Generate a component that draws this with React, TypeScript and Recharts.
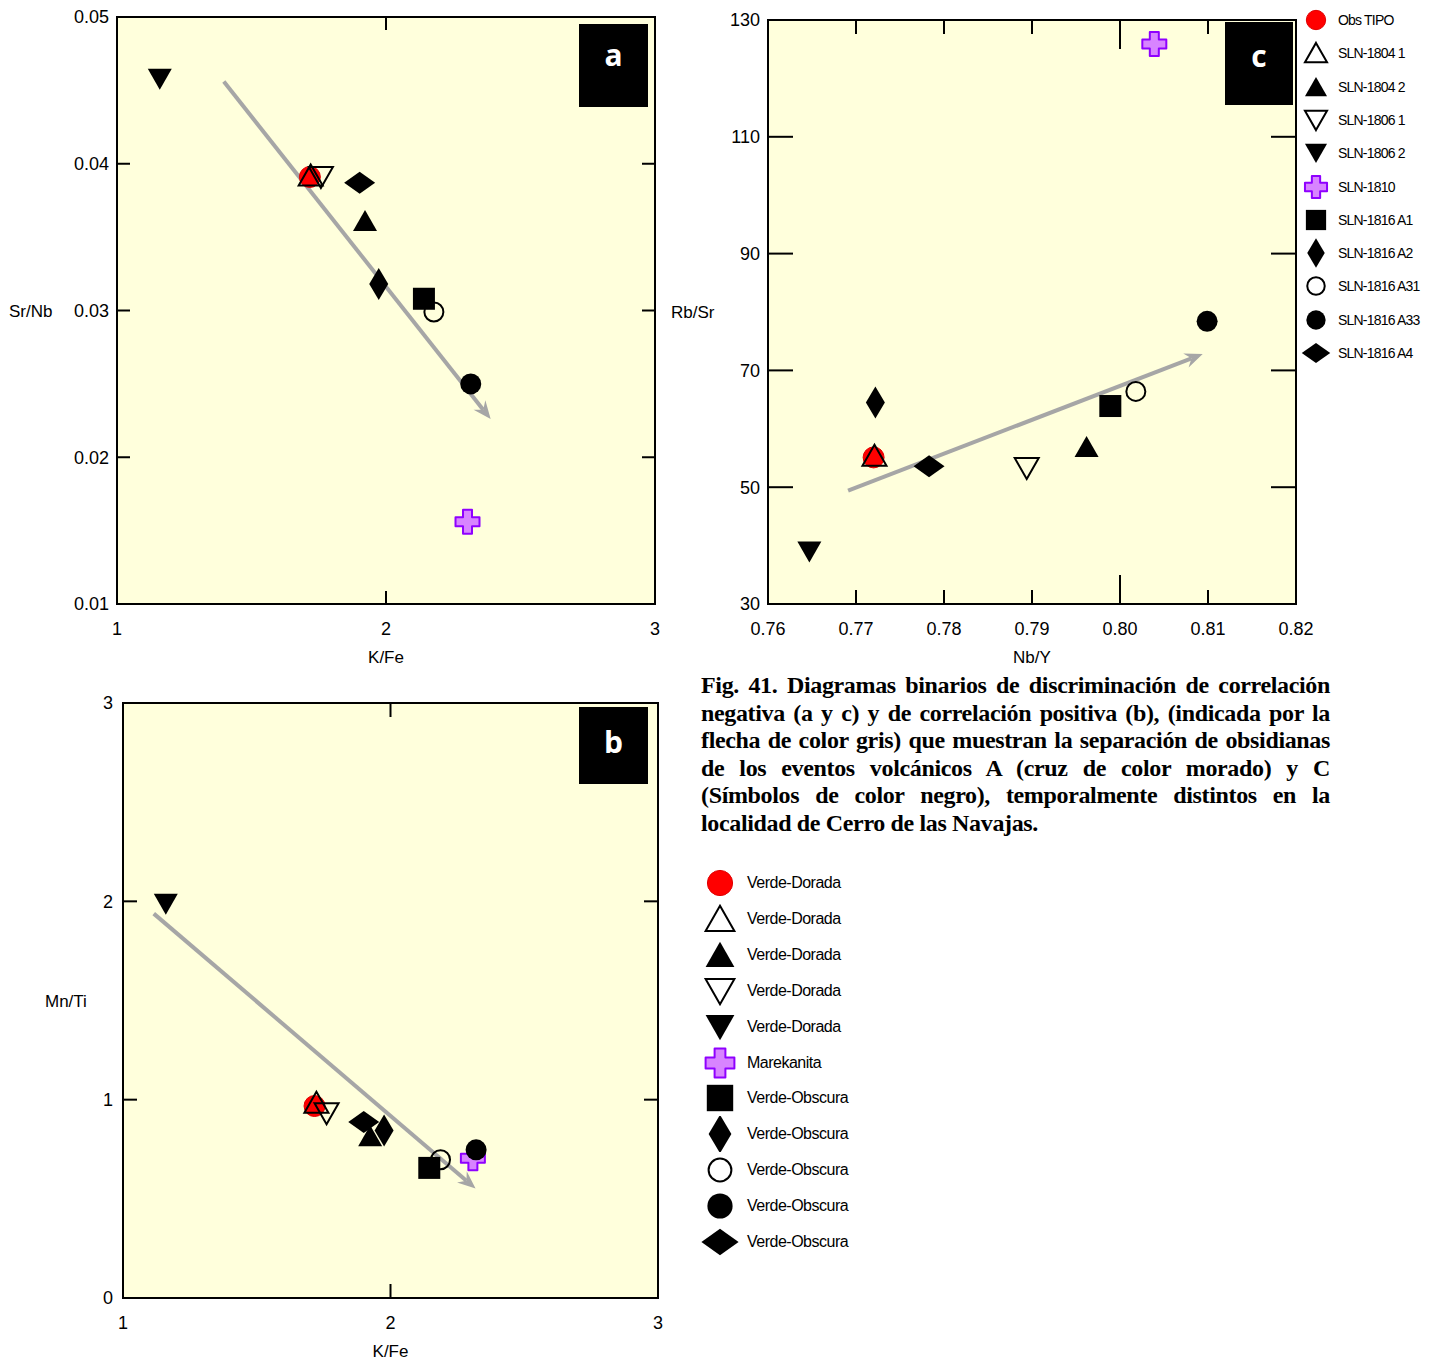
import React from 'react';
import { ScatterChart, Scatter, XAxis, YAxis, CartesianGrid, ReferenceArea, ReferenceLine } from 'recharts';

// samples in legend order, with their rock group and marker
const samples = ['Obs TIPO', 'SLN-1804 1', 'SLN-1804 2', 'SLN-1806 1', 'SLN-1806 2', 'SLN-1810', 'SLN-1816 A1', 'SLN-1816 A2', 'SLN-1816 A31', 'SLN-1816 A33', 'SLN-1816 A4'];
const groups = ['Verde-Dorada', 'Verde-Dorada', 'Verde-Dorada', 'Verde-Dorada', 'Verde-Dorada', 'Marekanita', 'Verde-Obscura', 'Verde-Obscura', 'Verde-Obscura', 'Verde-Obscura', 'Verde-Obscura'];
const kinds = ['red', 'upOpen', 'up', 'downOpen', 'down', 'cross', 'square', 'tall', 'ring', 'dot', 'wide'];

// panel a: K/Fe vs Sr/Nb
const kFeA = [1.717, 1.72, 1.922, 1.758, 1.159, 2.303, 2.141, 1.973, 2.178, 2.315, 1.902];
const srNbA = [0.0391, 0.0392, 0.0361, 0.0391, 0.0458, 0.0156, 0.0308, 0.0318, 0.0299, 0.025, 0.0387];
const arrowA = [[1.397, 0.0456], [2.389, 0.0226]];

// panel b: K/Fe vs Mn/Ti
const kFeB = [1.716, 1.723, 1.924, 1.761, 1.16, 2.308, 2.145, 1.976, 2.187, 2.32, 1.9];
const mnTiB = [0.968, 0.985, 0.815, 0.931, 1.988, 0.704, 0.656, 0.845, 0.697, 0.747, 0.888];
const arrowB = [[1.115, 1.938], [2.318, 0.552]];

// panel c: Nb/Y vs Rb/Sr
const nbYC = [0.772, 0.7721, 0.7962, 0.7894, 0.7647, 0.8039, 0.7989, 0.7722, 0.8018, 0.8099, 0.7783];
const rbSrC = [55.1, 55.4, 56.9, 53.3, 39.0, 125.9, 63.9, 64.5, 66.4, 78.4, 53.6];
const arrowC = [[0.7691, 49.4], [0.8094, 72.8]];

const ticksKFe = [1, 2, 3];
const ticksSrNb = [0.01, 0.02, 0.03, 0.04, 0.05];
const ticksMnTi = [0, 1, 2, 3];
const ticksNbY = [0.76, 0.77, 0.78, 0.79, 0.8, 0.81, 0.82];
const ticksRbSr = [30, 50, 70, 90, 110, 130];

const caption = [
  'Fig. 41. Diagramas binarios de discriminación de correlación',
  'negativa (a y c) y de correlación positiva (b), (indicada por la',
  'flecha de color gris) que muestran la separación de obsidianas',
  'de los eventos volcánicos A (cruz de color morado) y C',
  '(Símbolos de color negro), temporalmente distintos en la',
  'localidad de Cerro de las Navajas.',
];

const GREY = '#a6a6a6';
const PANEL_BG = '#ffffdc';
const SANS = '"Liberation Sans", Arial, sans-serif';

function Marker({ kind, cx, cy, s = 1 }: { kind: string; cx: number; cy: number; s?: number }) {
  const pts = (arr: number[][]) => arr.map(([x, y]) => `${cx + x * s},${cy + y * s}`).join(' ');
  switch (kind) {
    case 'red':
      return <circle cx={cx} cy={cy} r={10.5 * s} fill="#ff0000" stroke="#e00000" strokeWidth={1} />;
    case 'ring':
      return <circle cx={cx} cy={cy} r={9.5 * s} fill="none" stroke="#000" strokeWidth={2} />;
    case 'dot':
      return <circle cx={cx} cy={cy} r={10.5 * s} fill="#000" />;
    case 'up':
    case 'upOpen':
      return (
        <polygon
          points={pts([[0, -11], [12, 10], [-12, 10]])}
          fill={kind === 'up' ? '#000' : 'none'}
          stroke="#000"
          strokeWidth={kind === 'up' ? 0 : 2}
        />
      );
    case 'down':
    case 'downOpen':
      return (
        <polygon
          points={pts([[0, 11], [12, -10], [-12, -10]])}
          fill={kind === 'down' ? '#000' : 'none'}
          stroke="#000"
          strokeWidth={kind === 'down' ? 0 : 2}
        />
      );
    case 'square':
      return <rect x={cx - 11 * s} y={cy - 11 * s} width={22 * s} height={22 * s} fill="#000" />;
    case 'tall':
      return <polygon points={pts([[0, -16], [9.5, 0], [0, 16], [-9.5, 0]])} fill="#000" />;
    case 'wide':
      return <polygon points={pts([[-15.5, 0], [0, -11], [15.5, 0], [0, 11]])} fill="#000" />;
    case 'cross': {
      const a = 4.5;
      const l = 12;
      return (
        <polygon
          points={pts([[-a, -l], [a, -l], [a, -a], [l, -a], [l, a], [a, a], [a, l], [-a, l], [-a, a], [-l, a], [-l, -a], [-a, -a]])}
          fill="#d884ff"
          stroke="#8f00ff"
          strokeWidth={2}
          strokeLinejoin="round"
        />
      );
    }
    default:
      return null;
  }
}

function Arrow(props: any) {
  const { x1, y1, x2, y2 } = props;
  const dx = x2 - x1;
  const dy = y2 - y1;
  const len = Math.hypot(dx, dy) || 1;
  const ux = dx / len;
  const uy = dy / len;
  const px = -uy;
  const py = ux;
  const L = 18;
  const W = 7.5;
  const N = 12;
  const bx = x2 - ux * L;
  const by = y2 - uy * L;
  const nx = x2 - ux * N;
  const ny = y2 - uy * N;
  return (
    <g>
      <line x1={x1} y1={y1} x2={nx} y2={ny} stroke={GREY} strokeWidth={4} />
      <polygon points={`${x2},${y2} ${bx + px * W},${by + py * W} ${nx},${ny} ${bx - px * W},${by - py * W}`} fill={GREY} />
    </g>
  );
}

// draws only the two inward tick stubs at both ends of a reference line
const stubs = (len: number) => (props: any) => {
  const { x1, y1, x2, y2 } = props;
  const st = { stroke: '#000', strokeWidth: 2 };
  if (Math.abs(x1 - x2) < 0.5) {
    const t = Math.min(y1, y2);
    const b = Math.max(y1, y2);
    return (
      <g>
        <line x1={x1} x2={x1} y1={t} y2={t + len} {...st} />
        <line x1={x1} x2={x1} y1={b} y2={b - len} {...st} />
      </g>
    );
  }
  const l = Math.min(x1, x2);
  const r = Math.max(x1, x2);
  return (
    <g>
      <line x1={l} x2={l + len} y1={y1} y2={y1} {...st} />
      <line x1={r} x2={r - len} y1={y1} y2={y1} {...st} />
    </g>
  );
};

type InTicks = { axis: 'x' | 'y'; ticks: number[]; len: number };

type PanelProps = {
  left: number;
  top: number;
  width: number;
  height: number;
  margin: { top: number; right: number; left: number; bottom: number };
  yWidth: number;
  xHeight: number;
  xs: number[];
  ys: number[];
  xDomain: [number, number];
  yDomain: [number, number];
  xTicks: number[];
  yTicks: number[];
  xFmt: (v: number) => string;
  yFmt: (v: number) => string;
  inTicks: InTicks[];
  xLabel: string;
  yLabel: string;
  xLabelOffset: number;
  yLabelOffset: number;
  yTickMargin: number;
  arrow: number[][];
};

const tickStyle = { fill: '#000', fontSize: 18, fontFamily: SANS };
const labelStyle = { fill: '#000', fontSize: 17, fontFamily: SANS };

function Panel(p: PanelProps) {
  const rows = p.xs.map((x, i) => ({ x, y: p.ys[i], kind: kinds[i], name: samples[i] }));
  const [a0, a1] = p.arrow;
  return (
    <div style={{ position: 'absolute', left: p.left, top: p.top }}>
      <ScatterChart width={p.width} height={p.height} margin={p.margin}>
        <CartesianGrid xAxisId="m" yAxisId="m" horizontal={false} vertical={false} fill={PANEL_BG} fillOpacity={1} />
        <XAxis
          xAxisId="m"
          type="number"
          dataKey="x"
          domain={p.xDomain}
          ticks={p.xTicks}
          interval={0}
          allowDataOverflow
          height={p.xHeight}
          axisLine={false}
          tickLine={false}
          tickSize={0}
          tickMargin={18}
          tick={tickStyle}
          tickFormatter={p.xFmt}
          label={{ value: p.xLabel, position: 'insideBottom', offset: p.xLabelOffset, ...labelStyle }}
        />
        <YAxis
          yAxisId="m"
          type="number"
          dataKey="y"
          domain={p.yDomain}
          ticks={p.yTicks}
          interval={0}
          allowDataOverflow
          width={p.yWidth}
          axisLine={false}
          tickLine={false}
          tickSize={0}
          tickMargin={p.yTickMargin}
          tick={tickStyle}
          tickFormatter={p.yFmt}
          label={{ value: p.yLabel, position: 'insideLeft', offset: p.yLabelOffset, ...labelStyle }}
        />
        {p.inTicks.flatMap((t, i) =>
          t.ticks.map((v) =>
            t.axis === 'x' ? (
              <ReferenceLine key={`${i}-${v}`} xAxisId="m" yAxisId="m" x={v} shape={stubs(t.len)} />
            ) : (
              <ReferenceLine key={`${i}-${v}`} xAxisId="m" yAxisId="m" y={v} shape={stubs(t.len)} />
            )
          )
        )}
        <ReferenceArea
          xAxisId="m"
          yAxisId="m"
          x1={p.xDomain[0]}
          x2={p.xDomain[1]}
          y1={p.yDomain[0]}
          y2={p.yDomain[1]}
          fill="none"
          stroke="#000"
          strokeWidth={2}
        />
        <ReferenceLine
          xAxisId="m"
          yAxisId="m"
          segment={[{ x: a0[0], y: a0[1] }, { x: a1[0], y: a1[1] }]}
          shape={Arrow}
        />
        <Scatter
          xAxisId="m"
          yAxisId="m"
          data={rows}
          isAnimationActive={false}
          shape={(s: any) => <Marker kind={s.payload.kind} cx={s.cx} cy={s.cy} />}
        />
      </ScatterChart>
    </div>
  );
}

function PanelTag({ text, left, top, width, height, pad }: { text: string; left: number; top: number; width: number; height: number; pad: number }) {
  return (
    <div
      style={{
        position: 'absolute',
        left,
        top,
        width,
        height,
        background: '#000',
        color: '#fff',
        fontFamily: '"Open Sans", sans-serif',
        fontWeight: 700,
        fontSize: 30,
        lineHeight: '30px',
        textAlign: 'center',
        paddingTop: pad,
        boxSizing: 'border-box',
      }}
    >
      {text}
    </div>
  );
}

function Legend({ labels, x, y, step, s, textGap, fontSize, spacing }: { labels: string[]; x: number; y: number; step: number; s: number; textGap: number; fontSize: number; spacing: number }) {
  const h = 36;
  return (
    <>
      {labels.map((label, i) => (
        <div
          key={i}
          style={{
            position: 'absolute',
            left: x - 20,
            top: y + i * step - h / 2,
            height: h,
            display: 'flex',
            alignItems: 'center',
            whiteSpace: 'nowrap',
          }}
        >
          <svg width={40} height={h}>
            <Marker kind={kinds[i]} cx={20} cy={h / 2} s={s} />
          </svg>
          <span style={{ marginLeft: textGap, fontFamily: SANS, fontSize, letterSpacing: spacing, color: '#000' }}>{label}</span>
        </div>
      ))}
    </>
  );
}

const fmt0 = (v: number) => String(v);
const fmt2 = (v: number) => v.toFixed(2);

export default function App() {
  return (
    <div style={{ position: 'absolute', left: 0, top: 0, width: 1434, height: 1363, background: '#fff', overflow: 'hidden' }}>
      <Panel
        left={0}
        top={0}
        width={680}
        height={680}
        margin={{ top: 17, right: 25, left: 0, bottom: 0 }}
        yWidth={117}
        xHeight={76}
        xs={kFeA}
        ys={srNbA}
        xDomain={[1, 3]}
        yDomain={[0.01, 0.05]}
        xTicks={ticksKFe}
        yTicks={ticksSrNb}
        xFmt={fmt0}
        yFmt={fmt2}
        inTicks={[
          { axis: 'x', ticks: [2], len: 13 },
          { axis: 'y', ticks: [0.02, 0.03, 0.04], len: 13 },
        ]}
        xLabel="K/Fe"
        yLabel="Sr/Nb"
        xLabelOffset={17}
        yLabelOffset={9}
        yTickMargin={8}
        arrow={arrowA}
      />
      <Panel
        left={0}
        top={686}
        width={683}
        height={677}
        margin={{ top: 17, right: 25, left: 0, bottom: 0 }}
        yWidth={123}
        xHeight={65}
        xs={kFeB}
        ys={mnTiB}
        xDomain={[1, 3]}
        yDomain={[0, 3]}
        xTicks={ticksKFe}
        yTicks={ticksMnTi}
        xFmt={fmt0}
        yFmt={fmt0}
        inTicks={[
          { axis: 'x', ticks: [2], len: 14 },
          { axis: 'y', ticks: [1, 2], len: 14 },
        ]}
        xLabel="K/Fe"
        yLabel="Mn/Ti"
        xLabelOffset={6}
        yLabelOffset={45}
        yTickMargin={10}
        arrow={arrowB}
      />
      <Panel
        left={660}
        top={0}
        width={664}
        height={680}
        margin={{ top: 20, right: 28, left: 0, bottom: 0 }}
        yWidth={108}
        xHeight={76}
        xs={nbYC}
        ys={rbSrC}
        xDomain={[0.76, 0.82]}
        yDomain={[30, 130]}
        xTicks={ticksNbY}
        yTicks={ticksRbSr}
        xFmt={fmt2}
        yFmt={fmt0}
        inTicks={[
          { axis: 'x', ticks: [0.77, 0.78, 0.79, 0.81], len: 14 },
          { axis: 'x', ticks: [0.8], len: 29 },
          { axis: 'y', ticks: [50, 70, 90, 110], len: 25 },
        ]}
        xLabel="Nb/Y"
        yLabel="Rb/Sr"
        xLabelOffset={17}
        yLabelOffset={11}
        yTickMargin={8}
        arrow={arrowC}
      />

      <PanelTag text="a" left={579} top={24} width={69} height={83} pad={16} />
      <PanelTag text="b" left={579} top={707} width={69} height={77} pad={20} />
      <PanelTag text="c" left={1225} top={22} width={68} height={83} pad={19} />

      <Legend labels={samples} x={1316} y={20} step={33.3} s={0.92} textGap={2} fontSize={14} spacing={-0.8} />
      <Legend labels={groups} x={720} y={883} step={35.9} s={1.2} textGap={7} fontSize={16} spacing={-0.5} />

      <div style={{ position: 'absolute', left: 701, top: 672, width: 629, fontFamily: '"Liberation Serif", "Times New Roman", serif', fontWeight: 700, fontSize: 24, letterSpacing: -0.35, lineHeight: '27.6px', color: '#000' }}>
        {caption.map((line, i) => (
          <div
            key={i}
            style={{
              textAlign: i === caption.length - 1 ? 'left' : 'justify',
              textAlignLast: i === caption.length - 1 ? 'left' : 'justify',
            }}
          >
            {line}
          </div>
        ))}
      </div>
    </div>
  );
}
